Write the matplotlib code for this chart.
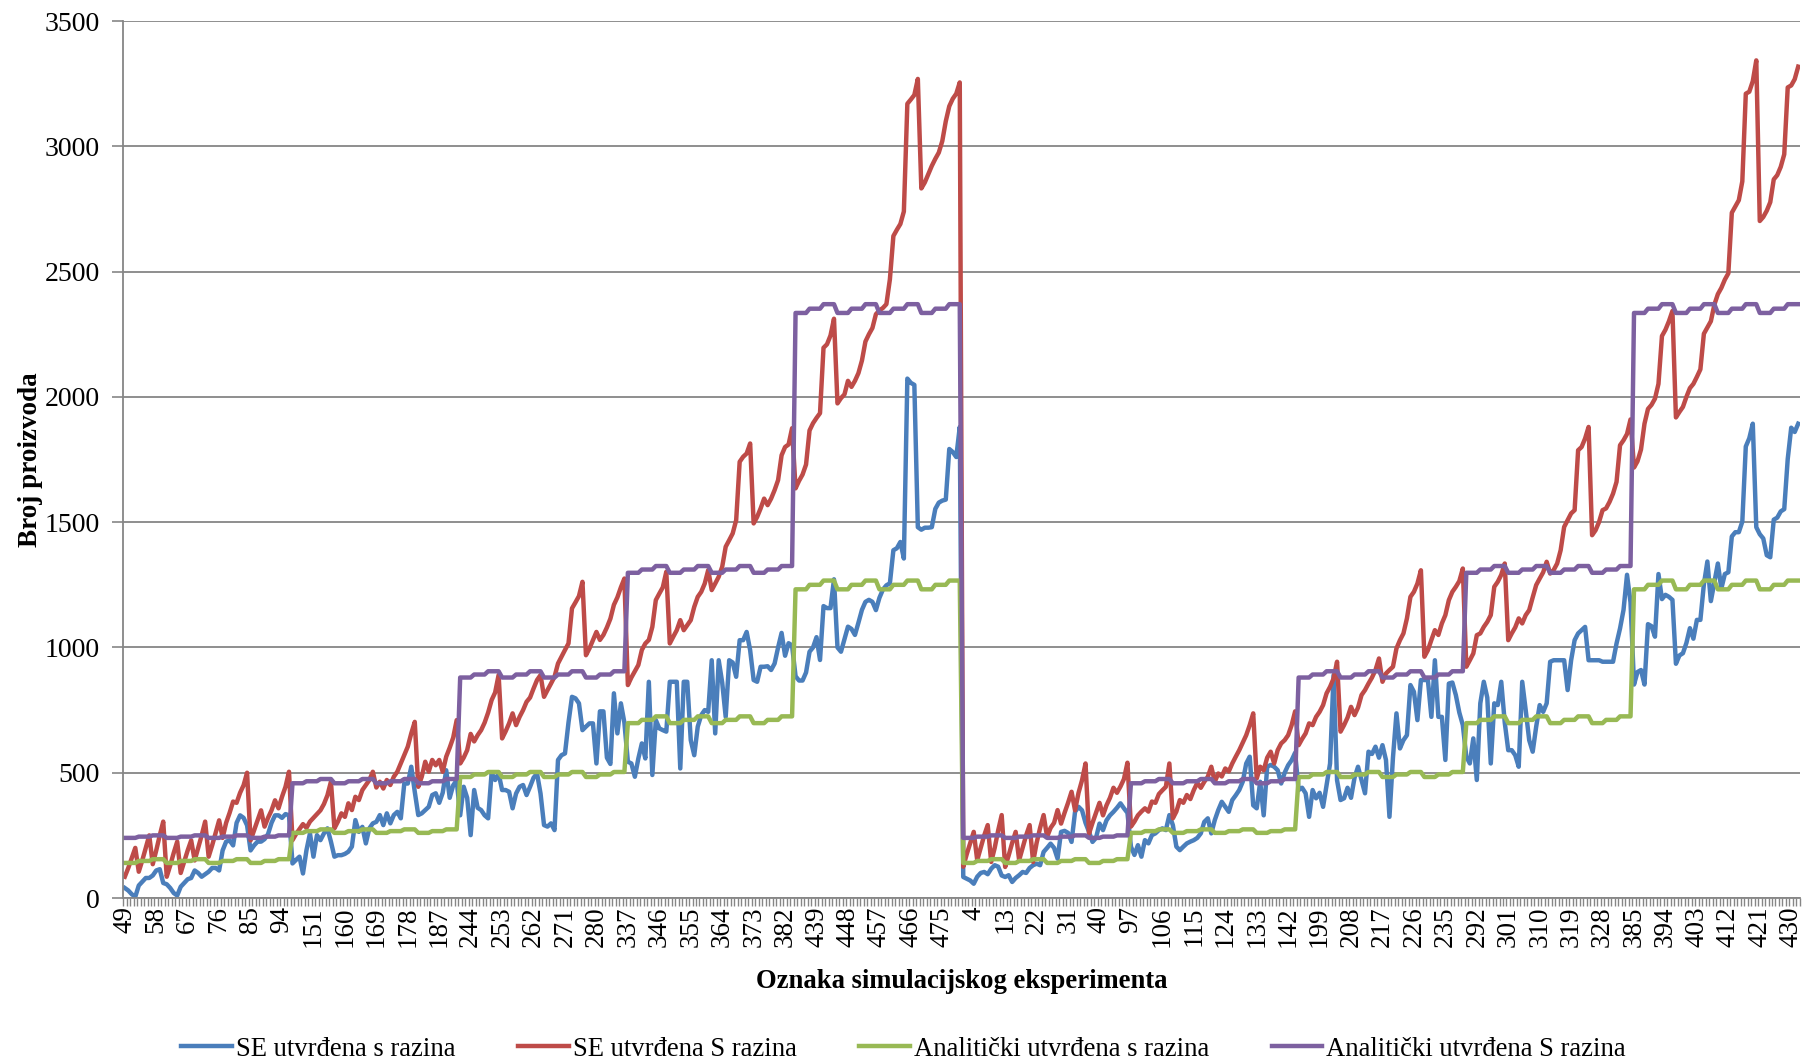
import numpy as np
import matplotlib
matplotlib.use('Agg')
import matplotlib.pyplot as plt

# oznake eksperimenata: 10 blokova po 48 (redoslijed kao na slici)
block_starts = [49, 145, 241, 337, 433, 1, 97, 193, 289, 385]
block_len = 48
label_step = 9

# SE utvrđena s razina (plava)
se_s = [
    [40, 30, 15, 5, 50, 65, 80, 80, 90, 110, 115, 60, 55, 40, 20, 10, 45, 60, 75, 80, 110, 100, 85, 95,
     105, 120, 120, 110, 190, 225, 230, 210, 300, 330, 320, 290, 190, 210, 225, 225, 235, 255, 300, 330, 330, 320, 335, 330],
    [138, 152, 165, 98, 191, 258, 165, 251, 231, 258, 278, 225, 165, 171, 171, 176, 185, 205, 311, 264, 284, 218, 278, 298,
     304, 331, 291, 338, 298, 331, 344, 318, 457, 457, 524, 424, 331, 338, 351, 364, 411, 418, 380, 420, 510, 400, 450, 470],
    [330, 444, 400, 251, 431, 360, 351, 330, 318, 500, 471, 497, 431, 431, 424, 358, 417, 444, 451, 411, 444, 480, 497, 417,
     291, 285, 298, 271, 551, 570, 577, 700, 803, 797, 777, 670, 684, 697, 697, 537, 745, 745, 560, 535, 817, 657, 777, 700],
    [544, 537, 484, 557, 617, 557, 863, 491, 710, 677, 670, 664, 863, 863, 863, 517, 863, 863, 630, 570, 684, 730, 750, 743,
     949, 657, 949, 860, 723, 949, 940, 883, 1029, 1029, 1062, 989, 870, 863, 923, 923, 925, 910, 936, 1000, 1058, 967, 1017, 1008],
    [885, 868, 868, 900, 983, 1000, 1041, 950, 1165, 1157, 1157, 1272, 1000, 983, 1033, 1083, 1074, 1050, 1099, 1150, 1182, 1190, 1182, 1149,
     1198, 1231, 1248, 1256, 1388, 1396, 1421, 1355, 2073, 2056, 2048, 1480, 1470, 1478, 1478, 1480, 1553, 1578, 1586, 1590, 1792, 1780, 1760, 1880],
    [84, 77, 70, 57, 85, 100, 104, 95, 117, 131, 125, 90, 84, 91, 64, 80, 91, 104, 100, 120, 131, 137, 131, 184,
     200, 217, 200, 157, 264, 268, 260, 224, 344, 364, 350, 300, 264, 224, 240, 297, 271, 310, 330, 344, 360, 378, 358, 340],
    [205, 172, 211, 165, 231, 218, 251, 258, 271, 278, 271, 331, 291, 205, 191, 205, 218, 225, 231, 240, 258, 304, 318, 258,
     311, 351, 384, 364, 344, 391, 410, 431, 464, 537, 564, 370, 358, 464, 330, 524, 531, 524, 510, 457, 500, 530, 550, 580],
    [431, 440, 418, 324, 431, 398, 420, 364, 450, 537, 890, 470, 391, 398, 440, 400, 480, 524, 471, 418, 584, 575, 604, 560,
     610, 551, 324, 560, 737, 597, 630, 650, 850, 823, 710, 870, 870, 870, 723, 949, 723, 723, 551, 856, 860, 810, 740, 690],
    [564, 537, 637, 471, 777, 863, 800, 537, 777, 770, 863, 700, 590, 590, 570, 524, 863, 750, 630, 584, 684, 770, 743, 777,
     943, 949, 949, 949, 949, 830, 949, 1029, 1056, 1069, 1082, 949, 949, 949, 949, 943, 943, 943, 943, 1016, 1076, 1150, 1290, 1180],
    [852, 902, 910, 852, 1093, 1085, 1043, 1293, 1193, 1210, 1202, 1190, 935, 968, 977, 1018, 1077, 1035, 1110, 1110, 1252, 1343, 1185, 1260,
     1335, 1235, 1293, 1300, 1443, 1460, 1460, 1502, 1802, 1835, 1893, 1480, 1452, 1435, 1368, 1360, 1510, 1518, 1543, 1552, 1752, 1877, 1860, 1893],
]

# SE utvrđena S razina (crvena)
se_S = [
    [85, 120, 160, 200, 105, 150, 200, 250, 135, 190, 250, 305, 85, 130, 180, 225, 100, 145, 190, 230, 150, 200, 250, 305,
     165, 210, 260, 310, 240, 300, 340, 385, 380, 420, 450, 500, 230, 270, 310, 350, 285, 320, 350, 390, 358, 404, 444, 504],
    [231, 255, 275, 295, 280, 305, 320, 335, 350, 375, 410, 464, 278, 305, 338, 324, 378, 351, 404, 391, 431, 451, 471, 504,
     441, 464, 437, 471, 451, 484, 504, 537, 570, 604, 657, 703, 444, 484, 544, 504, 551, 530, 551, 504, 564, 600, 640, 710],
    [537, 560, 590, 655, 625, 650, 670, 700, 740, 790, 820, 890, 637, 665, 697, 737, 690, 723, 750, 783, 800, 836, 870, 890,
     803, 830, 856, 883, 936, 963, 990, 1016, 1156, 1180, 1205, 1262, 969, 996, 1029, 1062, 1030, 1050, 1080, 1115, 1170, 1200, 1240, 1275],
    [850, 880, 905, 930, 990, 1016, 1030, 1082, 1189, 1215, 1240, 1302, 1016, 1043, 1069, 1109, 1069, 1089, 1109, 1162, 1202, 1222, 1255, 1309,
     1229, 1255, 1282, 1322, 1402, 1428, 1455, 1508, 1741, 1761, 1774, 1814, 1495, 1521, 1555, 1594, 1568, 1594, 1628, 1668, 1767, 1800, 1810, 1875],
    [1635, 1665, 1690, 1730, 1866, 1895, 1916, 1935, 2196, 2210, 2245, 2312, 1974, 1995, 2010, 2064, 2040, 2064, 2095, 2145, 2221, 2250, 2275, 2330,
     2345, 2355, 2370, 2469, 2642, 2667, 2690, 2740, 3170, 3187, 3205, 3269, 2832, 2856, 2889, 2922, 2950, 2975, 3021, 3100, 3160, 3190, 3210, 3255],
    [125, 175, 220, 264, 151, 200, 250, 291, 144, 200, 270, 331, 124, 170, 220, 264, 151, 200, 250, 291, 144, 220, 280, 331,
     244, 280, 300, 351, 297, 340, 380, 424, 350, 420, 470, 537, 257, 300, 340, 380, 330, 370, 400, 440, 420, 445, 475, 540],
    [285, 305, 330, 345, 358, 345, 385, 380, 415, 430, 444, 537, 318, 345, 391, 380, 411, 395, 431, 460, 440, 464, 484, 524,
     464, 497, 485, 517, 505, 537, 564, 590, 620, 650, 690, 737, 477, 524, 510, 560, 584, 537, 590, 617, 630, 650, 690, 745],
    [610, 635, 657, 697, 690, 723, 743, 770, 817, 843, 876, 943, 664, 690, 720, 763, 730, 760, 810, 830, 856, 880, 910, 956,
     863, 896, 910, 923, 996, 1029, 1056, 1116, 1202, 1222, 1255, 1308, 963, 989, 1030, 1069, 1050, 1096, 1129, 1189, 1222, 1242, 1265, 1315],
    [923, 949, 976, 1049, 1056, 1082, 1102, 1129, 1242, 1262, 1290, 1335, 1029, 1056, 1080, 1116, 1096, 1129, 1149, 1200, 1249, 1275, 1300, 1342,
     1295, 1309, 1335, 1388, 1481, 1508, 1535, 1548, 1787, 1800, 1834, 1880, 1448, 1468, 1501, 1548, 1555, 1581, 1614, 1661, 1807, 1827, 1852, 1910],
    [1718, 1743, 1790, 1893, 1952, 1968, 1993, 2052, 2243, 2268, 2302, 2343, 1918, 1940, 1960, 2000, 2035, 2052, 2080, 2110, 2252, 2277, 2302, 2368,
     2410, 2435, 2468, 2493, 2735, 2760, 2785, 2860, 3210, 3218, 3260, 3343, 2702, 2718, 2743, 2777, 2868, 2885, 2918, 2968, 3235, 3243, 3268, 3318],
]

# Analitički utvrđena s razina (zelena)
an_s = [
    [140, 140, 140, 140, 148, 148, 148, 148, 155, 155, 155, 155, 140, 140, 140, 140, 148, 148, 148, 148, 155, 155, 155, 155,
     140, 140, 140, 140, 148, 148, 148, 148, 155, 155, 155, 155, 140, 140, 140, 140, 148, 148, 148, 148, 155, 155, 155, 155],
    [260, 260, 260, 260, 267, 267, 267, 267, 274, 274, 274, 274, 260, 260, 260, 260, 267, 267, 267, 267, 274, 274, 274, 274,
     260, 260, 260, 260, 267, 267, 267, 267, 274, 274, 274, 274, 260, 260, 260, 260, 267, 267, 267, 267, 274, 274, 274, 274],
    [483, 483, 483, 483, 493, 493, 493, 493, 503, 503, 503, 503, 483, 483, 483, 483, 493, 493, 493, 493, 503, 503, 503, 503,
     483, 483, 483, 483, 493, 493, 493, 493, 503, 503, 503, 503, 483, 483, 483, 483, 493, 493, 493, 493, 503, 503, 503, 503],
    [698, 698, 698, 698, 711, 711, 711, 711, 725, 725, 725, 725, 698, 698, 698, 698, 711, 711, 711, 711, 725, 725, 725, 725,
     698, 698, 698, 698, 711, 711, 711, 711, 725, 725, 725, 725, 698, 698, 698, 698, 711, 711, 711, 711, 725, 725, 725, 725],
    [1232, 1232, 1232, 1232, 1250, 1250, 1250, 1250, 1267, 1267, 1267, 1267, 1232, 1232, 1232, 1232, 1250, 1250, 1250, 1250, 1267, 1267, 1267, 1267,
     1232, 1232, 1232, 1232, 1250, 1250, 1250, 1250, 1267, 1267, 1267, 1267, 1232, 1232, 1232, 1232, 1250, 1250, 1250, 1250, 1267, 1267, 1267, 1267],
    [140, 140, 140, 140, 148, 148, 148, 148, 155, 155, 155, 155, 140, 140, 140, 140, 148, 148, 148, 148, 155, 155, 155, 155,
     140, 140, 140, 140, 148, 148, 148, 148, 155, 155, 155, 155, 140, 140, 140, 140, 148, 148, 148, 148, 155, 155, 155, 155],
    [260, 260, 260, 260, 267, 267, 267, 267, 274, 274, 274, 274, 260, 260, 260, 260, 267, 267, 267, 267, 274, 274, 274, 274,
     260, 260, 260, 260, 267, 267, 267, 267, 274, 274, 274, 274, 260, 260, 260, 260, 267, 267, 267, 267, 274, 274, 274, 274],
    [483, 483, 483, 483, 493, 493, 493, 493, 503, 503, 503, 503, 483, 483, 483, 483, 493, 493, 493, 493, 503, 503, 503, 503,
     483, 483, 483, 483, 493, 493, 493, 493, 503, 503, 503, 503, 483, 483, 483, 483, 493, 493, 493, 493, 503, 503, 503, 503],
    [698, 698, 698, 698, 711, 711, 711, 711, 725, 725, 725, 725, 698, 698, 698, 698, 711, 711, 711, 711, 725, 725, 725, 725,
     698, 698, 698, 698, 711, 711, 711, 711, 725, 725, 725, 725, 698, 698, 698, 698, 711, 711, 711, 711, 725, 725, 725, 725],
    [1232, 1232, 1232, 1232, 1250, 1250, 1250, 1250, 1267, 1267, 1267, 1267, 1232, 1232, 1232, 1232, 1250, 1250, 1250, 1250, 1267, 1267, 1267, 1267,
     1232, 1232, 1232, 1232, 1250, 1250, 1250, 1250, 1267, 1267, 1267, 1267, 1232, 1232, 1232, 1232, 1250, 1250, 1250, 1250, 1267, 1267, 1267, 1267],
]

# Analitički utvrđena S razina (ljubičasta)
an_S = [
    [240, 240, 240, 240, 245, 245, 245, 245, 250, 250, 250, 250, 240, 240, 240, 240, 245, 245, 245, 245, 250, 250, 250, 250,
     240, 240, 240, 240, 245, 245, 245, 245, 250, 250, 250, 250, 240, 240, 240, 240, 245, 245, 245, 245, 250, 250, 250, 250],
    [458, 458, 458, 458, 466, 466, 466, 466, 475, 475, 475, 475, 458, 458, 458, 458, 466, 466, 466, 466, 475, 475, 475, 475,
     458, 458, 458, 458, 466, 466, 466, 466, 475, 475, 475, 475, 458, 458, 458, 458, 466, 466, 466, 466, 475, 475, 475, 475],
    [880, 880, 880, 880, 892, 892, 892, 892, 905, 905, 905, 905, 880, 880, 880, 880, 892, 892, 892, 892, 905, 905, 905, 905,
     880, 880, 880, 880, 892, 892, 892, 892, 905, 905, 905, 905, 880, 880, 880, 880, 892, 892, 892, 892, 905, 905, 905, 905],
    [1298, 1298, 1298, 1298, 1311, 1311, 1311, 1311, 1325, 1325, 1325, 1325, 1298, 1298, 1298, 1298, 1311, 1311, 1311, 1311, 1325, 1325, 1325, 1325,
     1298, 1298, 1298, 1298, 1311, 1311, 1311, 1311, 1325, 1325, 1325, 1325, 1298, 1298, 1298, 1298, 1311, 1311, 1311, 1311, 1325, 1325, 1325, 1325],
    [2335, 2335, 2335, 2335, 2352, 2352, 2352, 2352, 2370, 2370, 2370, 2370, 2335, 2335, 2335, 2335, 2352, 2352, 2352, 2352, 2370, 2370, 2370, 2370,
     2335, 2335, 2335, 2335, 2352, 2352, 2352, 2352, 2370, 2370, 2370, 2370, 2335, 2335, 2335, 2335, 2352, 2352, 2352, 2352, 2370, 2370, 2370, 2370],
    [240, 240, 240, 240, 245, 245, 245, 245, 250, 250, 250, 250, 240, 240, 240, 240, 245, 245, 245, 245, 250, 250, 250, 250,
     240, 240, 240, 240, 245, 245, 245, 245, 250, 250, 250, 250, 240, 240, 240, 240, 245, 245, 245, 245, 250, 250, 250, 250],
    [458, 458, 458, 458, 466, 466, 466, 466, 475, 475, 475, 475, 458, 458, 458, 458, 466, 466, 466, 466, 475, 475, 475, 475,
     458, 458, 458, 458, 466, 466, 466, 466, 475, 475, 475, 475, 458, 458, 458, 458, 466, 466, 466, 466, 475, 475, 475, 475],
    [880, 880, 880, 880, 892, 892, 892, 892, 905, 905, 905, 905, 880, 880, 880, 880, 892, 892, 892, 892, 905, 905, 905, 905,
     880, 880, 880, 880, 892, 892, 892, 892, 905, 905, 905, 905, 880, 880, 880, 880, 892, 892, 892, 892, 905, 905, 905, 905],
    [1298, 1298, 1298, 1298, 1311, 1311, 1311, 1311, 1325, 1325, 1325, 1325, 1298, 1298, 1298, 1298, 1311, 1311, 1311, 1311, 1325, 1325, 1325, 1325,
     1298, 1298, 1298, 1298, 1311, 1311, 1311, 1311, 1325, 1325, 1325, 1325, 1298, 1298, 1298, 1298, 1311, 1311, 1311, 1311, 1325, 1325, 1325, 1325],
    [2335, 2335, 2335, 2335, 2352, 2352, 2352, 2352, 2370, 2370, 2370, 2370, 2335, 2335, 2335, 2335, 2352, 2352, 2352, 2352, 2370, 2370, 2370, 2370,
     2335, 2335, 2335, 2335, 2352, 2352, 2352, 2352, 2370, 2370, 2370, 2370, 2335, 2335, 2335, 2335, 2352, 2352, 2352, 2352, 2370, 2370, 2370, 2370],
]

names = ['SE utvrđena s razina', 'SE utvrđena S razina',
         'Analitički utvrđena s razina', 'Analitički utvrđena S razina']
colors = ['#4A7EBB', '#BE4B48', '#98B954', '#7D60A0']

series = [np.concatenate(s) for s in (se_s, se_S, an_s, an_S)]
for s, n in zip(series, names):
    if len(s) != len(block_starts) * block_len:
        print("duljina ne valja:", n, len(s))

ids = [b + k for b in block_starts for k in range(block_len)]
x = np.arange(len(ids))

plt.rcParams['font.family'] = ['Liberation Serif', 'DejaVu Serif']
grey = '#868686'
fs = 19.5

fig, ax = plt.subplots(figsize=(18.07, 10.63), dpi=100)
fig.subplots_adjust(left=0.0681, right=0.9961, top=0.9802, bottom=0.1552)

for ys, c, n in zip(series, colors, names):
    ax.plot(x[:len(ys)], ys, color=c, lw=3.2, label=n, solid_joinstyle='round')

ax.set_xlim(-0.5, len(ids) - 0.5)
ax.set_ylim(0, 3500)
ax.set_yticks(np.arange(0, 3501, 500))
ax.set_xticks(x[::label_step])
ax.set_xticklabels([str(ids[i]) for i in x[::label_step]], rotation=90)
ax.set_xticks(np.arange(-0.5, len(ids)), minor=True)
ax.tick_params(axis='x', which='major', length=0, pad=6, labelsize=fs)
ax.tick_params(axis='x', which='minor', length=6, color=grey, width=1)
ax.tick_params(axis='y', length=8, color=grey, width=1.2, pad=8.5, labelsize=20)
ax.grid(axis='y', color=grey, lw=1.3)
ax.set_axisbelow(True)
for sp in ['top', 'right']:
    ax.spines[sp].set_visible(False)
for sp in ['left', 'bottom']:
    ax.spines[sp].set_color(grey)
    ax.spines[sp].set_linewidth(1.3)

ax.set_ylabel('Broj proizvoda', fontsize=fs, fontweight='bold')
ax.yaxis.set_label_coords(-0.048, 0.5)
ax.set_xlabel('Oznaka simulacijskog eksperimenta', fontsize=19.2, fontweight='bold')
ax.xaxis.set_label_coords(0.5, -0.081)

fig.legend(loc='center', bbox_to_anchor=(0.5, 0.013), ncol=4, frameon=False,
           fontsize=19.2, handlelength=1.9, handletextpad=0.15, columnspacing=2.35)

fig.savefig('out.png', dpi=100)
